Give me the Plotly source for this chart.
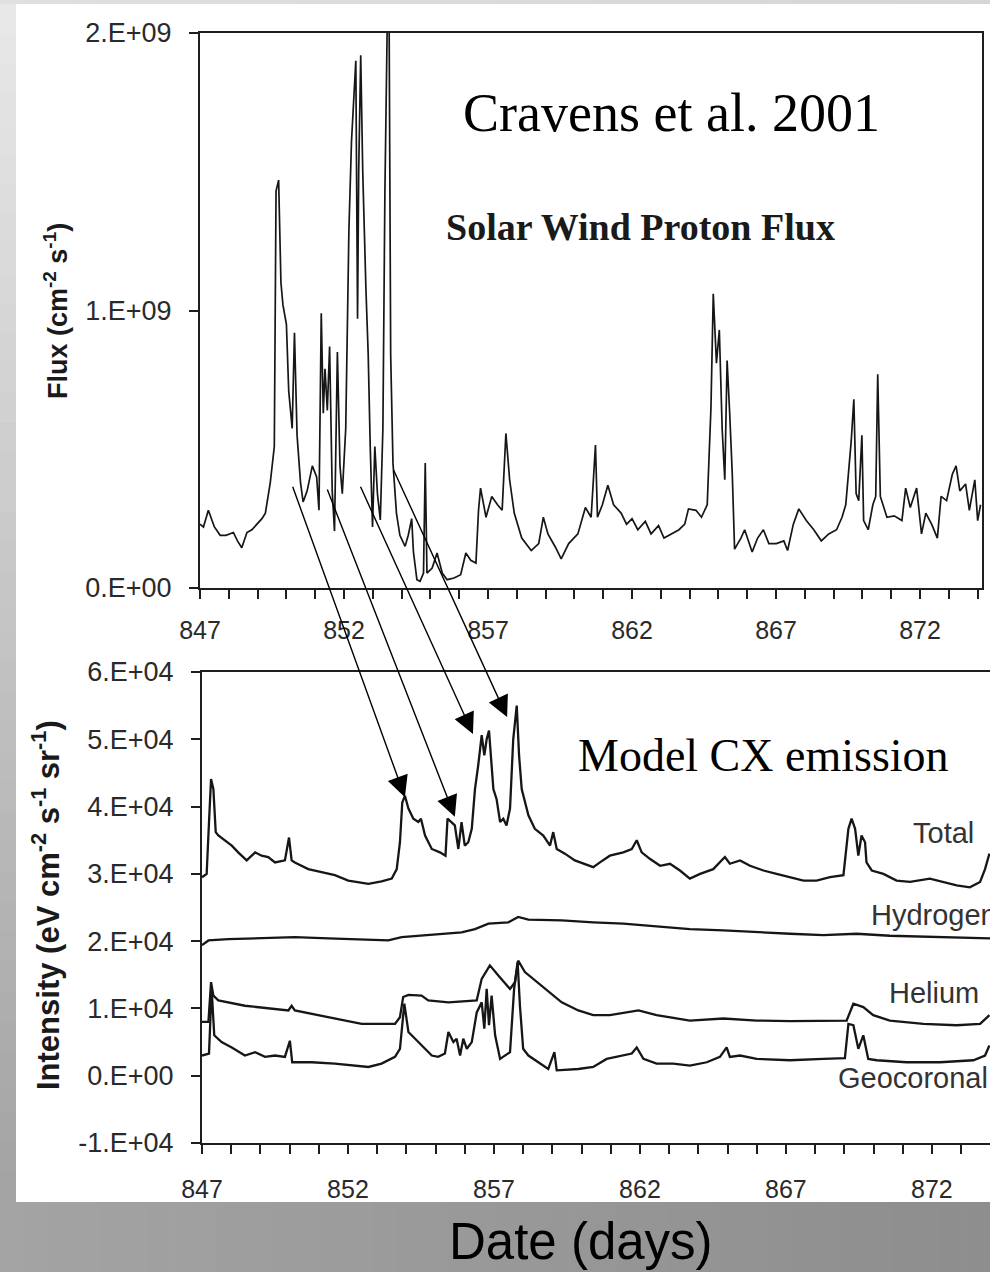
import plotly.graph_objects as go

W, H = 990, 1272

# ---- Solar wind proton flux (units of 1e9 cm^-2 s^-1) ----
flux_day = [
    847.00, 847.12, 847.29, 847.50, 847.70, 847.90, 848.16, 848.30, 848.45, 848.63,
    848.80, 848.98, 849.15, 849.27, 849.44, 849.58, 849.64, 849.73, 849.81, 849.88,
    850.00, 850.08, 850.20, 850.28, 850.37, 850.49, 850.58, 850.72, 850.90, 851.05,
    851.13, 851.21, 851.28, 851.34, 851.42, 851.50, 851.59, 851.67, 851.77, 851.86,
    851.94, 852.06, 852.17, 852.26, 852.35, 852.41, 852.47, 852.51, 852.58, 852.65,
    852.76, 852.84, 852.91, 852.99, 853.07, 853.16, 853.26, 853.35, 853.42, 853.48,
    853.55, 853.62, 853.70, 853.82, 853.94, 854.12, 854.23, 854.35, 854.41, 854.53,
    854.64, 854.76, 854.82, 854.88, 855.06, 855.23, 855.41, 855.58, 855.82, 856.05,
    856.23, 856.40, 856.58, 856.67, 856.74, 856.93, 857.13, 857.33, 857.49, 857.62,
    857.75, 857.91, 858.17, 858.50, 858.76, 858.92, 859.08, 859.34, 859.54, 859.80,
    860.12, 860.38, 860.58, 860.73, 860.80, 860.97, 861.16, 861.36, 861.62, 861.81,
    862.00, 862.20, 862.46, 862.66, 862.92, 863.11, 863.37, 863.63, 863.83, 863.96,
    864.22, 864.41, 864.61, 864.74, 864.82, 864.93, 865.03, 865.13, 865.22, 865.30,
    865.39, 865.48, 865.56, 865.78, 865.91, 866.17, 866.36, 866.56, 866.75, 867.01,
    867.27, 867.40, 867.60, 867.79, 868.05, 868.31, 868.57, 868.83, 869.10, 869.29,
    869.42, 869.55, 869.61, 869.70, 869.78, 869.87, 869.98, 870.04, 870.20, 870.36,
    870.46, 870.53, 870.62, 870.85, 871.10, 871.37, 871.50, 871.66, 871.88, 872.05,
    872.20, 872.40, 872.60, 872.73, 872.92, 873.12, 873.25, 873.38, 873.58, 873.71,
    873.90, 874.00, 874.10,
]
flux_e9 = [
    0.23, 0.22, 0.28, 0.22, 0.19, 0.19, 0.20, 0.17, 0.145, 0.20,
    0.21, 0.23, 0.25, 0.27, 0.38, 0.51, 1.43, 1.47, 1.10, 1.02,
    0.95, 0.71, 0.575, 0.92, 0.55, 0.38, 0.31, 0.35, 0.44, 0.40,
    0.28, 0.99, 0.63, 0.79, 0.64, 0.87, 0.35, 0.205, 0.85, 0.44,
    0.34, 0.575, 1.29, 1.61, 1.76, 1.90, 0.97, 1.50, 1.92, 1.50,
    1.08, 0.84, 0.51, 0.22, 0.51, 0.34, 0.245, 0.575, 1.43, 1.90,
    2.40, 0.84, 0.45, 0.27, 0.19, 0.15, 0.19, 0.25, 0.13, 0.03,
    0.024, 0.054, 0.45, 0.054, 0.072, 0.126, 0.054, 0.03, 0.036, 0.048,
    0.126, 0.10, 0.09, 0.28, 0.36, 0.255, 0.33, 0.30, 0.28, 0.557,
    0.39, 0.27, 0.18, 0.135, 0.16, 0.255, 0.195, 0.147, 0.105, 0.16,
    0.195, 0.29, 0.255, 0.515, 0.255, 0.30, 0.37, 0.30, 0.27, 0.23,
    0.25, 0.21, 0.24, 0.195, 0.225, 0.18, 0.195, 0.21, 0.23, 0.285,
    0.28, 0.255, 0.30, 0.65, 1.06, 0.81, 0.93, 0.57, 0.39, 0.82,
    0.63, 0.41, 0.14, 0.18, 0.21, 0.13, 0.18, 0.21, 0.16, 0.16,
    0.17, 0.135, 0.23, 0.285, 0.243, 0.21, 0.17, 0.195, 0.21, 0.255,
    0.30, 0.46, 0.53, 0.68, 0.34, 0.315, 0.55, 0.243, 0.21, 0.30,
    0.33, 0.77, 0.33, 0.255, 0.26, 0.243, 0.36, 0.29, 0.36, 0.195,
    0.27, 0.23, 0.18, 0.33, 0.315, 0.41, 0.44, 0.35, 0.375, 0.28,
    0.39, 0.243, 0.30,
]

# ---- Model CX emission (units of 1e4 eV cm^-2 s^-1 sr^-1) ----
total_day = [
    847.00, 847.16, 847.24, 847.31, 847.39, 847.47, 847.56, 847.84, 848.02, 848.24,
    848.53, 848.82, 849.04, 849.27, 849.50, 849.84, 849.98, 850.07, 850.18, 850.64,
    851.10, 851.55, 852.01, 852.35, 852.70, 853.15, 853.50, 853.67, 853.78, 853.86,
    853.95, 854.07, 854.24, 854.41, 854.50, 854.64, 854.87, 855.15, 855.34, 855.41,
    855.55, 855.66, 855.78, 855.89, 856.00, 856.12, 856.24, 856.35, 856.46, 856.58,
    856.67, 856.75, 856.83, 856.90, 856.98, 857.09, 857.21, 857.32, 857.43, 857.55,
    857.66, 857.78, 857.86, 857.95, 858.18, 858.40, 858.69, 858.92, 859.03, 859.15,
    859.43, 859.77, 860.12, 860.40, 860.63, 860.97, 861.43, 861.72, 861.89, 862.06,
    862.35, 862.69, 863.03, 863.37, 863.71, 864.06, 864.51, 864.74, 864.91, 865.08,
    865.43, 865.77, 866.23, 866.68, 867.14, 867.60, 868.05, 868.51, 868.97, 869.06,
    869.14, 869.25, 869.37, 869.48, 869.59, 869.71, 869.76, 869.94, 870.34, 870.79,
    871.25, 871.93, 872.39, 872.85, 873.30, 873.65, 873.82, 873.97,
]
total_e4 = [
    2.95, 3.00, 3.77, 4.41, 4.26, 3.62, 3.57, 3.47, 3.42, 3.32,
    3.20, 3.32, 3.27, 3.25, 3.17, 3.20, 3.54, 3.20, 3.17, 3.07,
    3.02, 2.98, 2.90, 2.88, 2.85, 2.89, 2.93, 3.07, 3.47, 4.06,
    4.16, 3.97, 3.82, 3.77, 3.82, 3.57, 3.37, 3.32, 3.27, 3.82,
    3.77, 3.72, 3.37, 3.77, 3.42, 3.47, 3.67, 4.26, 4.61, 5.06,
    4.76, 5.00, 5.13, 4.66, 4.26, 4.11, 3.77, 3.82, 3.72, 3.97,
    5.00, 5.50, 4.76, 4.26, 3.87, 3.67, 3.57, 3.42, 3.62, 3.37,
    3.30, 3.20, 3.15, 3.10, 3.17, 3.27, 3.32, 3.37, 3.50, 3.32,
    3.22, 3.12, 3.15, 3.05, 2.93, 3.00, 3.07, 3.17, 3.25, 3.15,
    3.20, 3.12, 3.05, 3.00, 2.95, 2.90, 2.90, 2.95, 2.98, 3.32,
    3.67, 3.82, 3.67, 3.27, 3.57, 3.47, 3.17, 3.05, 3.00, 2.90,
    2.88, 2.93, 2.88, 2.83, 2.80, 2.88, 3.07, 3.30,
]

hydrogen_day = [
    847.00, 847.22, 847.90, 849.04, 850.18, 851.33, 852.47, 853.38, 853.84, 854.75,
    855.89, 856.35, 856.81, 857.49, 857.83, 858.18, 859.32, 860.40, 861.43, 862.57,
    863.71, 864.86, 866.00, 867.14, 868.28, 869.42, 870.56, 871.71, 872.85, 874.00,
]
hydrogen_e4 = [
    1.94, 2.01, 2.03, 2.04, 2.06, 2.04, 2.02, 2.01, 2.06, 2.09,
    2.13, 2.18, 2.26, 2.28, 2.36, 2.32, 2.31, 2.28, 2.26, 2.22,
    2.18, 2.16, 2.13, 2.11, 2.09, 2.11, 2.08, 2.07, 2.06, 2.04,
]

helium_day = [
    847.00, 847.22, 847.31, 847.39, 847.56, 848.47, 849.96, 850.07, 850.18, 851.33,
    852.47, 853.61, 853.78, 853.89, 854.07, 854.52, 854.75, 855.44, 856.24, 856.41,
    856.58, 856.86, 857.15, 857.55, 857.72, 857.83, 858.06, 858.75, 859.32, 859.89,
    860.40, 860.97, 861.95, 862.57, 863.71, 864.86, 866.00, 867.14, 868.28, 869.08,
    869.31, 869.65, 869.99, 870.56, 871.71, 872.85, 873.65, 873.97,
]
helium_e4 = [
    0.80, 0.80, 1.39, 1.19, 1.12, 1.04, 0.97, 1.04, 0.97, 0.87,
    0.77, 0.77, 0.87, 1.17, 1.20, 1.19, 1.12, 1.09, 1.12, 1.12,
    1.44, 1.64, 1.49, 1.29, 1.39, 1.71, 1.54, 1.29, 1.09, 0.97,
    0.90, 0.90, 0.97, 0.90, 0.82, 0.85, 0.82, 0.81, 0.81, 0.82,
    1.07, 1.02, 0.90, 0.82, 0.77, 0.75, 0.77, 0.90,
]

geocoronal_day = [
    847.00, 847.24, 847.33, 847.42, 847.67, 848.02, 848.47, 848.82, 849.16, 849.50,
    849.84, 850.01, 850.09, 850.76, 851.55, 852.70, 853.15, 853.61, 853.78, 853.93,
    854.07, 854.41, 854.64, 854.87, 855.09, 855.32, 855.44, 855.61, 855.72, 855.84,
    855.95, 856.07, 856.24, 856.41, 856.58, 856.67, 856.75, 856.83, 856.92, 857.04,
    857.21, 857.38, 857.55, 857.69, 857.81, 857.89, 858.00, 858.18, 858.52, 858.86,
    859.07, 859.15, 859.89, 860.40, 860.86, 861.43, 861.72, 861.89, 862.12, 862.57,
    863.14, 863.71, 864.29, 864.74, 864.97, 865.08, 865.43, 866.00, 867.14, 868.28,
    869.02, 869.14, 869.31, 869.48, 869.65, 869.82, 870.11, 871.13, 872.28, 873.42,
    873.82, 873.97,
]
geocoronal_e4 = [
    0.30, 0.33, 1.29, 0.60, 0.50, 0.42, 0.30, 0.35, 0.28, 0.30,
    0.28, 0.52, 0.20, 0.20, 0.18, 0.13, 0.18, 0.28, 0.40, 1.07,
    0.65, 0.50, 0.40, 0.30, 0.28, 0.33, 0.65, 0.50, 0.55, 0.30,
    0.55, 0.40, 0.50, 0.94, 1.09, 0.70, 1.29, 0.75, 1.19, 0.60,
    0.25, 0.30, 0.35, 1.29, 1.69, 1.04, 0.40, 0.30, 0.20, 0.10,
    0.35, 0.08, 0.10, 0.13, 0.25, 0.30, 0.33, 0.42, 0.25, 0.18,
    0.18, 0.15, 0.20, 0.28, 0.42, 0.28, 0.30, 0.25, 0.23, 0.25,
    0.26, 0.77, 0.75, 0.40, 0.60, 0.25, 0.23, 0.20, 0.20, 0.23,
    0.30, 0.45,
]

# ---- Axis ticks ----
day_labels_at = [847, 852, 857, 862, 867, 872]
day_labels = [str(d) for d in day_labels_at]
flux_ticks = [0, 1e9, 2e9]
flux_labels = ["0.E+00", "1.E+09", "2.E+09"]
int_ticks = [-1e4, 0, 1e4, 2e4, 3e4, 4e4, 5e4, 6e4]
int_labels = ["-1.E+04", "0.E+00", "1.E+04", "2.E+04", "3.E+04", "4.E+04", "5.E+04", "6.E+04"]

# ---- Arrows linking flux enhancements to emission peaks ----
arrow_tail_day = [850.20, 851.40, 852.55, 853.70]
arrow_tail_flux_e9 = [0.37, 0.36, 0.37, 0.43]
arrow_head_day = [853.95, 855.66, 856.28, 857.45]
arrow_head_int_e4 = [4.14, 3.85, 5.08, 5.33]

# ---- Panel geometry (pixels) ----
TOP = dict(x0=200, x1=982, y0=33, y1=588, xr=(847, 874.15), yr=(0, 2e9))
BOT = dict(x0=202, x1=990, y0=672, y1=1143, xr=(847, 873.99), yr=(-1e4, 6e4))


def to_px(p, xv, yv):
    px = p["x0"] + (xv - p["xr"][0]) / (p["xr"][1] - p["xr"][0]) * (p["x1"] - p["x0"])
    py = p["y1"] - (yv - p["yr"][0]) / (p["yr"][1] - p["yr"][0]) * (p["y1"] - p["y0"])
    return px, py


def xdom(p):
    return [p["x0"] / W, p["x1"] / W]


def ydom(p):
    return [1 - p["y1"] / H, 1 - p["y0"] / H]


def px_x(px):
    return px / W


def px_y(py):
    return 1 - py / H


INK = "#161616"
AXIS_INK = "#1e1e1e"
X_TICK_FONT = dict(family="Liberation Sans, Arial, sans-serif", size=25, color="#2a2a2a")
Y_TICK_FONT = dict(family="Liberation Sans, Arial, sans-serif", size=27, color="#2a2a2a")

fig = go.Figure()

fig.add_trace(go.Scatter(
    x=flux_day, y=[v * 1e9 for v in flux_e9], mode="lines",
    line=dict(color=INK, width=1.7), xaxis="x", yaxis="y", showlegend=False,
))
for days, vals in [(total_day, total_e4), (hydrogen_day, hydrogen_e4),
                   (helium_day, helium_e4), (geocoronal_day, geocoronal_e4)]:
    fig.add_trace(go.Scatter(
        x=days, y=[v * 1e4 for v in vals], mode="lines",
        line=dict(color=INK, width=2.3), xaxis="x2", yaxis="y2", showlegend=False,
    ))

axis_common = dict(
    showgrid=False, zeroline=False, showline=True, linecolor=AXIS_INK, linewidth=2,
    ticks="outside", tickcolor=AXIS_INK, ticklen=9, tickwidth=2, automargin=False,
)
day_minor = dict(tick0=847, dtick=1, ticks="outside", ticklen=9, tickwidth=2,
                 tickcolor=AXIS_INK, showgrid=False)

fig.update_layout(
    template="none",
    width=W, height=H,
    margin=dict(l=0, r=0, t=0, b=0, pad=0),
    paper_bgcolor="#b4b4b4",
    plot_bgcolor="white",
    showlegend=False,
    xaxis=dict(axis_common, domain=xdom(TOP), range=list(TOP["xr"]), anchor="y",
               tickvals=day_labels_at, ticktext=day_labels, minor=day_minor,
               tickfont=X_TICK_FONT, mirror=True, ticklabelstandoff=10),
    yaxis=dict(axis_common, domain=ydom(TOP), range=list(TOP["yr"]), anchor="x",
               tickvals=flux_ticks, ticktext=flux_labels, tickfont=Y_TICK_FONT,
               mirror=True, ticklabelstandoff=12),
    xaxis2=dict(axis_common, domain=xdom(BOT), range=list(BOT["xr"]), anchor="y2",
                tickvals=day_labels_at, ticktext=day_labels, minor=day_minor,
                tickfont=X_TICK_FONT, mirror=True, ticklabelstandoff=14),
    yaxis2=dict(axis_common, domain=ydom(BOT), range=list(BOT["yr"]), anchor="x2",
                tickvals=int_ticks, ticktext=int_labels, tickfont=Y_TICK_FONT,
                mirror=False, ticklabelstandoff=12),
)

# ---- Background: grey frame with shading, white figure panel ----
shapes = []
n = 40
for i in range(n):
    t = i / (n - 1)
    # left strip, lighter at the top
    g = int(232 - 68 * t)
    shapes.append(dict(type="rect", xref="paper", yref="paper", layer="below",
                       x0=0, x1=px_x(16), y0=px_y(4 + (1198 / n) * (i + 1) + 0.5),
                       y1=px_y(4 + (1198 / n) * i),
                       fillcolor=f"rgb({g},{g},{g})", line_width=0))
    # bottom band, darker to the right
    g2 = int(164 - 22 * t)
    shapes.append(dict(type="rect", xref="paper", yref="paper", layer="below",
                       x0=px_x(W / n * i), x1=px_x(W / n * (i + 1) + 0.5),
                       y0=0, y1=px_y(1202),
                       fillcolor=f"rgb({g2},{g2},{g2})", line_width=0))
    # thin top strip
    g3 = int(224 - 10 * t)
    shapes.append(dict(type="rect", xref="paper", yref="paper", layer="below",
                       x0=px_x(W / n * i), x1=px_x(W / n * (i + 1) + 0.5),
                       y0=px_y(4), y1=1,
                       fillcolor=f"rgb({g3},{g3},{g3})", line_width=0))
shapes.append(dict(type="rect", xref="paper", yref="paper", layer="below",
                   x0=px_x(16), x1=1, y0=px_y(1202), y1=px_y(4),
                   fillcolor="white", line_width=0))
fig.update_layout(shapes=shapes)

ann = []
serif = "Liberation Serif, Times New Roman, serif"
sans = "Liberation Sans, Arial, sans-serif"


def label(text, px, py, size, family, color="black", xanchor="center", angle=0):
    ann.append(dict(text=text, x=px_x(px), y=px_y(py), xref="paper", yref="paper",
                    showarrow=False, xanchor=xanchor, yanchor="middle",
                    textangle=angle, font=dict(family=family, size=size, color=color)))


label("Cravens et al. 2001", 671, 113, 54, serif)
label("<b>Solar Wind Proton Flux</b>", 640, 227, 38, serif, color="#1a1a1a")
label("Model CX emission", 763, 755, 46, serif)
label("Total", 943, 833, 29, sans, color="#333333")
label("Hydrogen", 869, 915, 29, sans, color="#333333", xanchor="left")
label("Helium", 934, 993, 29, sans, color="#333333")
label("Geocoronal", 836, 1078, 29, sans, color="#333333", xanchor="left")
label("<b>Flux (cm<sup>-2</sup> s<sup>-1</sup>)</b>", 56, 311, 27, sans,
      color="#1a1a1a", angle=-90)
label("<b>Intensity (eV cm<sup>-2</sup> s<sup>-1</sup> sr<sup>-1</sup>)</b>", 46, 905, 31,
      sans, color="#1a1a1a", angle=-90)
label("Date (days)", 581, 1241, 51, sans, color="black")

for td, tf, hd, hi in zip(arrow_tail_day, arrow_tail_flux_e9, arrow_head_day, arrow_head_int_e4):
    tx, ty = to_px(TOP, td, tf * 1e9)
    hx, hy = to_px(BOT, hd, hi * 1e4)
    ann.append(dict(x=hd, y=hi * 1e4, xref="x2", yref="y2", axref="pixel", ayref="pixel",
                    ax=tx - hx, ay=ty - hy, text="", showarrow=True,
                    arrowhead=2, arrowsize=3.0, arrowwidth=1.4, arrowcolor="black",
                    standoff=0))

fig.update_layout(annotations=ann)

fig.write_html("out.html")
